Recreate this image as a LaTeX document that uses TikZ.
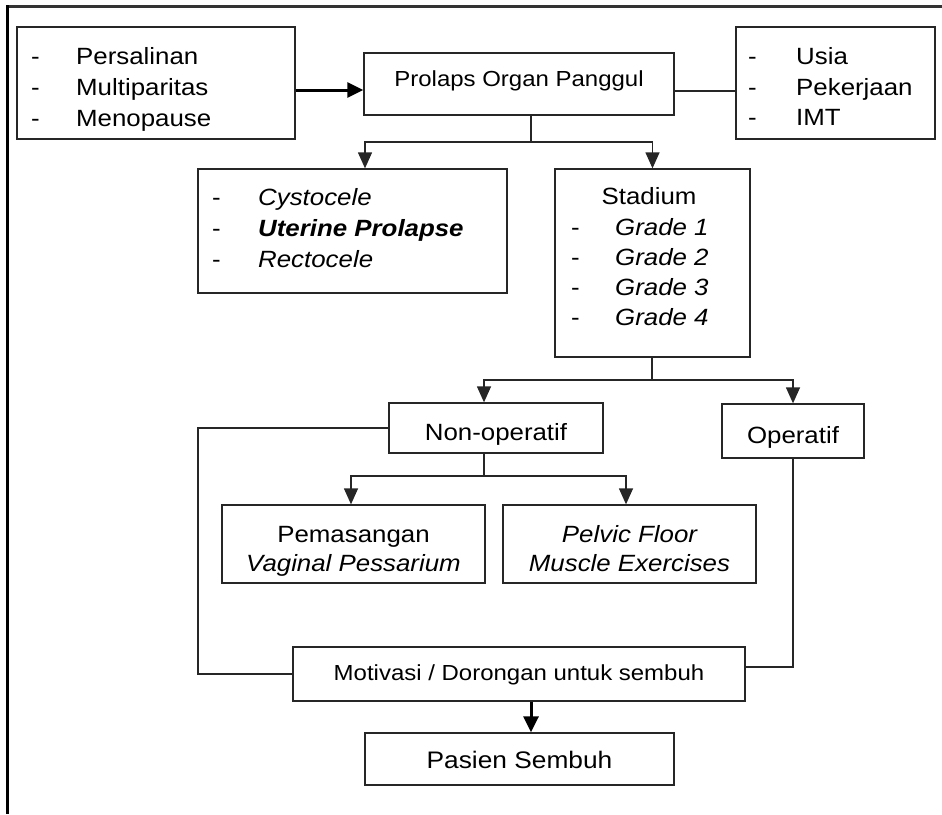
\documentclass[tikz,border=0pt]{standalone}
\usepackage{fontspec}
\setmainfont{Liberation Sans}[FakeStretch=1.1]
\usetikzlibrary{arrows.meta,fit}
\newcommand\fmain{\fontsize{23.5pt}{28pt}\selectfont}
\newcommand\fsmall{\fontsize{21.8pt}{26pt}\selectfont}
\newcommand\fbig{\fontsize{23.9pt}{28pt}\selectfont}
\begin{document}
\begin{tikzpicture}[x=1pt,y=-1pt,
  box/.style={draw=black!85, line width=1.3pt, inner sep=0pt, rectangle},
  conn/.style={draw=black!85, line width=1.3pt},
  arr/.style={conn, -{Triangle[length=16pt,width=14pt]}},
  thickarr/.style={draw=black, line width=3pt, -{Triangle[length=16pt,width=15pt]}},
  lbl/.style={inner sep=0pt, anchor=base west, font=\fmain},
  ctr/.style={inner sep=0pt, anchor=base, font=\fmain}]
\useasboundingbox (0,0) rectangle (942,814);
% frame
\draw[line width=3pt, black!80] (6,6.5) -- (942,6.5);
\draw[line width=3pt, black] (7.5,5) -- (7.5,814);
% boxes
\node[box, fit={(17,27) (295,139)}] (A) {};
\node[box, fit={(364,53) (674,115)}] (P) {};
\node[box, fit={(736,27) (935,139)}] (U) {};
\node[box, fit={(198,169) (507,293)}] (C) {};
\node[box, fit={(555,169) (750,357)}] (S) {};
\node[box, fit={(389,403) (603,453)}] (N) {};
\node[box, fit={(722,404) (864,458)}] (O) {};
\node[box, fit={(222,505) (485,583)}] (V) {};
\node[box, fit={(503,505) (756,583)}] (F) {};
\node[box, fit={(293,647) (745,701)}] (M) {};
\node[box, fit={(365,733) (674,785)}] (R) {};
% texts
\node[lbl] (a1d) at (31,64) {-};
\node[lbl] (a1) at (76,64) {Persalinan};
\node[lbl] (a2d) at (31,95) {-};
\node[lbl] (a2) at (76,95) {Multiparitas};
\node[lbl] (a3d) at (31,126) {-};
\node[lbl] (a3) at (76,126) {Menopause};
\node[ctr, font=\fsmall] (pt) at (519,86) {Prolaps Organ Panggul};
\node[lbl] (u1d) at (748,64) {-};
\node[lbl] (u1) at (796,64) {Usia};
\node[lbl] (u2d) at (748,95) {-};
\node[lbl] (u2) at (796,95) {Pekerjaan};
\node[lbl] (u3d) at (748,125) {-};
\node[lbl] (u3) at (796,125) {IMT};
\node[lbl] (c1d) at (212,205) {-};
\node[lbl] (c1) at (258,205) {\itshape Cystocele};
\node[lbl] (c2d) at (212,236) {-};
\node[lbl] (c2) at (258,236) {\bfseries\itshape Uterine Prolapse};
\node[lbl] (c3d) at (212,267) {-};
\node[lbl] (c3) at (258,267) {\itshape Rectocele};
\node[ctr] (st) at (649,204) {Stadium};
\node[lbl] (g1d) at (571,235) {-};
\node[lbl] (g1) at (615,235) {\itshape Grade 1};
\node[lbl] (g2d) at (571,265) {-};
\node[lbl] (g2) at (615,265) {\itshape Grade 2};
\node[lbl] (g3d) at (571,295) {-};
\node[lbl] (g3) at (615,295) {\itshape Grade 3};
\node[lbl] (g4d) at (571,325) {-};
\node[lbl] (g4) at (615,325) {\itshape Grade 4};
\node[ctr] (nt) at (496,440) {Non-operatif};
\node[ctr] (ot) at (793,443) {Operatif};
\node[ctr] (v1) at (353.5,542) {Pemasangan};
\node[ctr] (v2) at (353.5,571) {\itshape Vaginal Pessarium};
\node[ctr] (f1) at (629.5,542) {\itshape Pelvic Floor};
\node[ctr] (f2) at (629.5,571) {\itshape Muscle Exercises};
\node[ctr, font=\fsmall] (mt) at (519,680) {Motivasi / Dorongan untuk sembuh};
\node[ctr, font=\fbig] (rt) at (519.5,768) {Pasien Sembuh};
% connectors
\draw[thickarr] ([yshift=-7pt]A.east) -- ([yshift=-7pt]A.east -| P.west);
\draw[conn] ([yshift=-7pt]P.east) -- ([yshift=-7pt]P.east -| U.west);
\coordinate (j1) at (531,142);
\draw[conn] (P.south -| j1) -- (j1);
\draw[arr] (j1) -| ([xshift=12.5pt]C.north);
\draw[arr] (j1) -| (S.north);
\coordinate (j2) at (652,380);
\draw[conn] (S.south -| j2) -- (j2);
\draw[arr] (j2) -| ([xshift=-12pt]N.north);
\draw[arr] (j2) -| (O.north);
\coordinate (j3) at (484,476);
\draw[conn] (N.south -| j3) -- (j3);
\draw[arr] (j3) -| ([xshift=-2.5pt]V.north);
\draw[arr] (j3) -| ([xshift=-3.5pt]F.north);
\coordinate (lx) at (198,0);
\draw[conn] (N.west) -| (lx |- M.west) -- (M.west);
\draw[conn] (O.south) |- ([yshift=7pt]M.east);
\draw[thickarr] ([xshift=12pt]M.south) -- ([xshift=12pt]M.south |- R.north);
\end{tikzpicture}
\end{document}
